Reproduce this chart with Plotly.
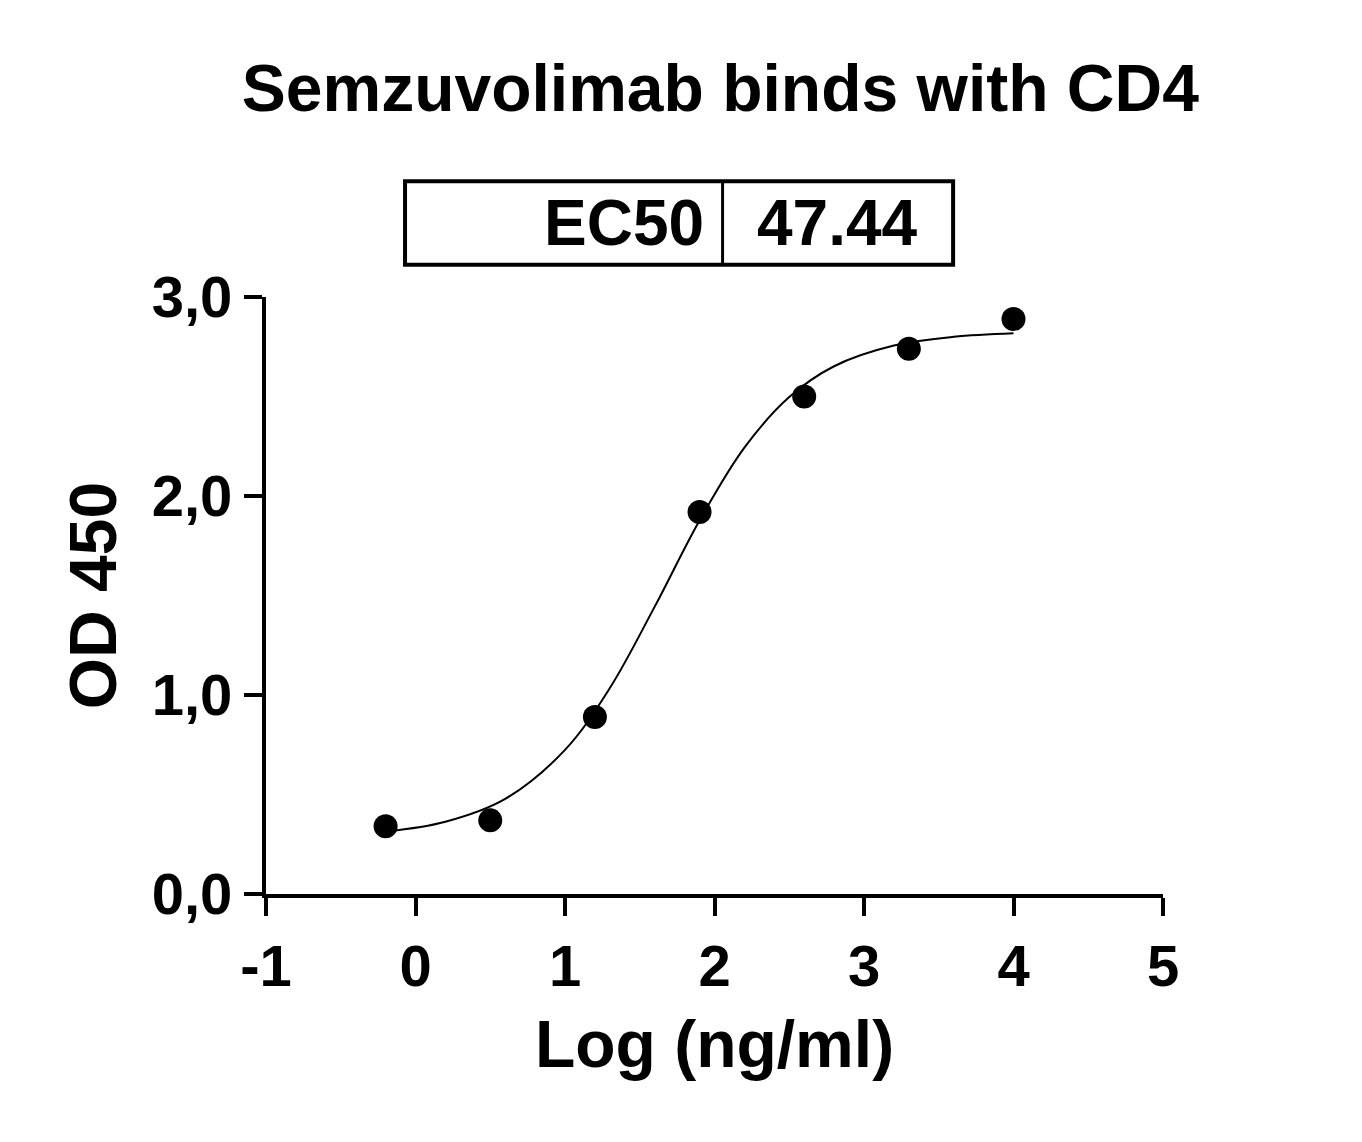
import plotly.graph_objects as go

log_conc = [-0.2, 0.5, 1.2, 1.9, 2.6, 3.3, 4.0]
od450 = [0.34, 0.37, 0.89, 1.92, 2.50, 2.74, 2.89]

fit_x = [-0.2, 0.2, 0.6, 1.0, 1.3, 1.6, 1.9, 2.2, 2.5, 2.8, 3.2, 3.6, 4.0]
fit_y = [0.313, 0.363, 0.478, 0.724, 1.035, 1.444, 1.877, 2.243, 2.497, 2.652, 2.756, 2.80, 2.818]

x_ticks = [-1, 0, 1, 2, 3, 4, 5]
x_ticklabels = ["-1", "0", "1", "2", "3", "4", "5"]

ec50_label = "EC50"
ec50_value = "47.44"

font = "Liberation Sans, Arial, sans-serif"

fig = go.Figure()
fig.add_trace(go.Scatter(x=fit_x, y=fit_y, mode="lines", line=dict(color="black", width=2, shape="spline"),
                         showlegend=False, hoverinfo="skip"))
fig.add_trace(go.Scatter(x=log_conc, y=od450, mode="markers", marker=dict(color="black", size=24),
                         showlegend=False, cliponaxis=False))

# EC50 box
fig.add_shape(type="rect", xref="paper", yref="paper", x0=0.155, x1=0.766, y0=1.054, y1=1.194,
              line=dict(color="black", width=4))
fig.add_shape(type="line", xref="paper", yref="paper", x0=0.509, x1=0.509, y0=1.054, y1=1.194,
              line=dict(color="black", width=3))
fig.add_annotation(xref="paper", yref="paper", x=0.49, y=1.124, yanchor="middle", text="<b>%s</b>" % ec50_label,
                   showarrow=False, xanchor="right", font=dict(size=64, color="black", family=font))
fig.add_annotation(xref="paper", yref="paper", x=0.637, y=1.124, yanchor="middle", text="<b>%s</b>" % ec50_value,
                   showarrow=False, xanchor="center", font=dict(size=64, color="black", family=font))

axis_common = dict(showline=True, linecolor="black", linewidth=4, ticks="outside", ticklen=18,
                   tickwidth=4, tickcolor="black", showgrid=False, zeroline=False,
                   tickfont=dict(size=58, color="black", family=font, weight="bold"))

fig.update_xaxes(range=[-1, 5], tickvals=x_ticks, ticktext=x_ticklabels,
                 title=dict(text="<b>Log (ng/ml)</b>", font=dict(size=66, family=font, color="black"), standoff=25),
                 **axis_common)
fig.update_yaxes(range=[0, 3], dtick=1, tickformat=".1f",
                 title=dict(text="<b>OD 450</b>", font=dict(size=66, family=font, color="black"), standoff=15),
                 **axis_common)

fig.update_layout(
    width=1362, height=1142, separators=",.",
    margin=dict(l=258, r=207, t=289, b=256),
    plot_bgcolor="white", paper_bgcolor="white",
    font=dict(family=font, color="black"),
    title=dict(text="<b>Semzuvolimab binds with CD4</b>", x=0.523, xanchor="center",
               y=0.93, yanchor="middle", font=dict(size=66, family=font, color="black")),
)

fig.write_html("out.html")
